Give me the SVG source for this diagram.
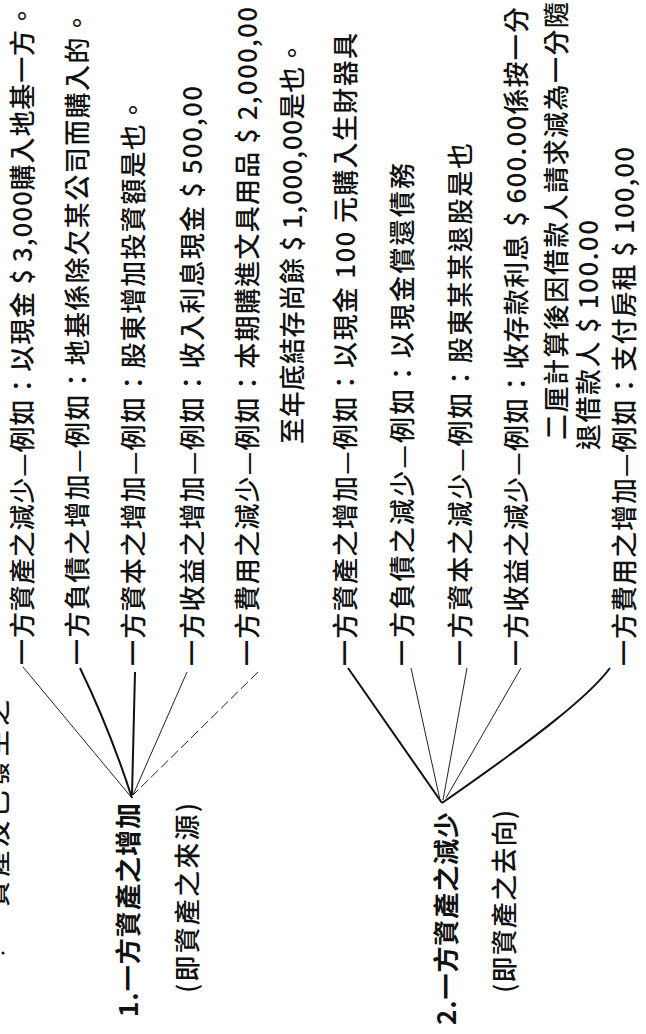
<svg xmlns="http://www.w3.org/2000/svg" width="646" height="1034" viewBox="0 0 646 1034">
<style>
.t{font-family:"Noto Sans CJK TC","Noto Sans CJK JP",sans-serif;font-size:26px;font-weight:500;fill:#111}
.b{font-weight:bold}
.thin{stroke:#222;stroke-width:1;fill:none}
.thick{stroke:#111;stroke-width:2;fill:none}
</style>
<rect width="646" height="1034" fill="#fff"/>
<g id="connectors">
<path class="thin" d="M23,667 L132,798"/>
<path class="thick" d="M80,668 Q110,730 132,798"/>
<path class="thick" d="M135,672 L132,795"/>
<path class="thin" d="M187,672 L133,795"/>
<path class="thin" d="M258,672 L133,795" stroke-dasharray="10 4"/>
<path class="thick" d="M348,668 L442,803"/>
<path class="thin" d="M411,668 L440,800"/>
<path class="thin" d="M467,668 L443,800"/>
<path class="thin" d="M521,668 L446,798"/>
<path class="thick" d="M610,668 C590,695 540,735 442,803"/>
</g>
<g id="partial"><text class="t" transform="translate(7,907) rotate(-90)" textLength="207">資產及已發生之</text><circle cx="3" cy="953" r="1.5" fill="#111"/></g>
<g id="root1">
<text class="t b" transform="translate(138,1017) rotate(-90)" textLength="214">1.一方資產之增加</text>
<text class="t" transform="translate(197,993) rotate(-90)" textLength="190">(即資產之來源)</text>
</g>
<g id="root2">
<text class="t b" transform="translate(456,1025) rotate(-90)" textLength="213">2.一方資產之減少</text>
<text class="t" transform="translate(514,993) rotate(-90)" textLength="183">(即資產之去向)</text>
</g>
<g id="a1"><text class="t" transform="translate(32,665) rotate(-90)" textLength="662">一方資產之減少—例如：以現金 $ 3,000購入地基一方。</text></g>
<g id="a2"><text class="t" transform="translate(87,665) rotate(-90)" textLength="655">一方負債之增加—例如：地基係除欠某公司而購入的。</text></g>
<g id="a3"><text class="t" transform="translate(143,666) rotate(-90)" textLength="569">一方資本之增加—例如：股東增加投資額是也。</text></g>
<g id="a4"><text class="t" transform="translate(202,666) rotate(-90)" textLength="580">一方收益之增加—例如：收入利息現金 $ 500,00</text></g>
<g id="a5">
<text class="t" transform="translate(257,666) rotate(-90)" textLength="659">一方費用之減少—例如：本期購進文具用品 $ 2,000,00</text>
<text class="t" transform="translate(302,444) rotate(-90)" textLength="404">至年底結存尚餘 $ 1,000,00是也。</text>
</g>
<g id="b1"><text class="t" transform="translate(355,666) rotate(-90)" textLength="633">一方資產之增加—例如：以現金 100 元購入生財器具</text></g>
<g id="b2"><text class="t" transform="translate(412,666) rotate(-90)" textLength="503">一方負債之減少—例如：以現金償還債務</text></g>
<g id="b3"><text class="t" transform="translate(470,666) rotate(-90)" textLength="523">一方資本之減少—例如：股東某某退股是也</text></g>
<g id="b4">
<text class="t" transform="translate(526,666) rotate(-90)" textLength="659">一方收益之減少—例如：收存款利息 $ 600.00係按一分</text>
<text class="t" transform="translate(566,440) rotate(-90)" textLength="438">二厘計算後因借款人請求減為一分隨</text>
<text class="t" transform="translate(598,450) rotate(-90)" textLength="230">退借款人 $ 100.00</text>
</g>
<g id="b5"><text class="t" transform="translate(634,666) rotate(-90)" textLength="519">一方費用之增加—例如：支付房租 $ 100,00</text></g>
</svg>
